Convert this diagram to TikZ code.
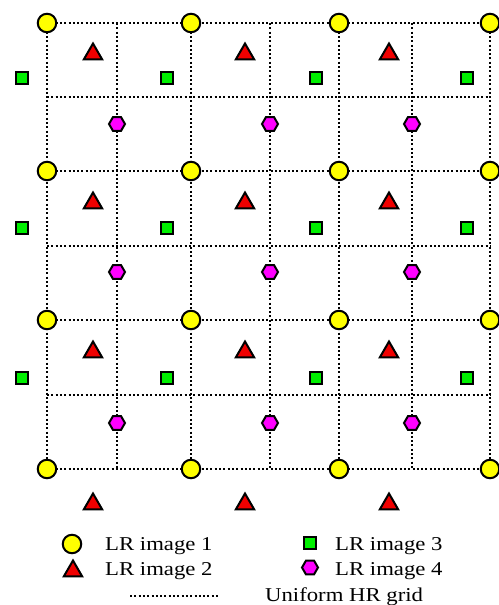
\documentclass[tikz,border=0pt]{standalone}
\usepackage{fontspec}
\setmainfont{Liberation Serif}
\usetikzlibrary{shapes.geometric}
\definecolor{lryellow}{RGB}{255,255,0}
\definecolor{lrred}{RGB}{240,0,0}
\definecolor{lrgreen}{RGB}{0,240,0}
\definecolor{lrmagenta}{RGB}{255,0,255}
\begin{document}
\begin{tikzpicture}[x=1pt,y=-1pt,
  sym/.style={draw=black,line width=2pt,inner sep=0pt,outer sep=0pt},
  lrone/.style={sym,circle,fill=lryellow,minimum size=18.5pt},
  lrtwo/.style={sym,regular polygon,regular polygon sides=3,fill=lrred,minimum size=21pt},
  lrthree/.style={sym,rectangle,fill=lrgreen,minimum size=12pt},
  lrfour/.style={sym,regular polygon,regular polygon sides=6,fill=lrmagenta,minimum size=16pt},
  hrgrid/.style={line width=2pt,dash pattern=on 2pt off 2.3pt},
  legtext/.style={anchor=base west,inner sep=0pt,font=\fontsize{19.6}{22}\selectfont}]
\useasboundingbox (0,0) rectangle (498,605);
% uniform HR grid
\foreach \x in {47,117,191,270,339,412,490}
  \draw[hrgrid] (\x,23) -- (\x,469);
\foreach \y in {23,97,171,246,320,395,469}
  \draw[hrgrid] (47,\y) -- (490,\y);
% LR image 1
\foreach \y [count=\j] in {23,171,320,469}
  \foreach \x [count=\i] in {47,191,339,490}
    \node[lrone] (a\j\i) at (\x,\y) {};
% LR image 2
\foreach \y [count=\j] in {54,203,352,504}
  \foreach \x [count=\i] in {93,245,389}
    \node[lrtwo] (b\j\i) at (\x,\y) {};
% LR image 3
\foreach \y [count=\j] in {78,228,378}
  \foreach \x [count=\i] in {22,167,316,467}
    \node[lrthree] (c\j\i) at (\x,\y) {};
% LR image 4
\foreach \y [count=\j] in {124,272,423}
  \foreach \x [count=\i] in {117,270,412}
    \node[lrfour] (d\j\i) at (\x,\y) {};
% legend
\node[lrone] (l1) at (72,544) {};
\node[lrtwo] (l2) at (73,571) {};
\node[lrthree] (l3) at (310,542.5) {};
\node[lrfour] (l4) at (310,567.5) {};
\node[legtext] (t1) at (105,550) {\scalebox{1.16}[1]{LR image 1}};
\node[legtext] (t2) at (105,575) {\scalebox{1.16}[1]{LR image 2}};
\node[legtext] (t3) at (335,550) {\scalebox{1.16}[1]{LR image 3}};
\node[legtext] (t4) at (335,575) {\scalebox{1.16}[1]{LR image 4}};
\coordinate (g1) at (130,595.5);
\coordinate (g2) at (218,595.5);
\draw[hrgrid] (g1) -- (g2);
\node[legtext] (t5) at (265,601) {\scalebox{1.16}[1]{Uniform HR grid}};
\end{tikzpicture}
\end{document}
